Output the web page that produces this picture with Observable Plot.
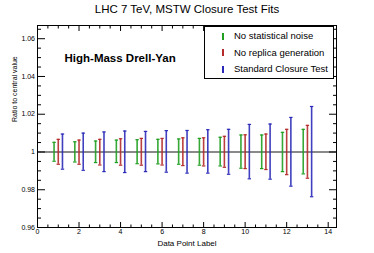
<!DOCTYPE html>
<html>
<head>
<meta charset="utf-8">
<script src="https://cdn.jsdelivr.net/npm/d3@7"></script>
<script src="https://cdn.jsdelivr.net/npm/@observablehq/plot@0.6"></script>
<style>
  html, body { margin: 0; padding: 0; background: white; }
  #wrap { position: relative; width: 374px; height: 253px; font-family: "Liberation Sans", Arial, Helvetica, sans-serif; color: black; }
  #title { position: absolute; left: 0; top: 2px; width: 374px; text-align: center; font-size: 11.5px; line-height: 14px; }
  #legend { position: absolute; left: 204px; top: 26px; width: 128px; height: 51px; border: 1px solid black; background: white; }
  .lrow { position: absolute; left: 0; height: 12px; font-size: 9.5px; line-height: 12px; }
  .lmark { position: absolute; left: 17px; top: 2.5px; width: 1.6px; height: 7px; }
  .ltext { position: absolute; left: 29px; top: 0; white-space: nowrap; }
</style>
</head>
<body>
<div id="wrap">
  <div id="chart"></div>
  <div id="title"></div>
  <div id="legend"></div>
</div>
<script>
// ---- data ----
const titleText = "LHC 7 TeV, MSTW Closure Test Fits";
const panelLabel = "High-Mass Drell-Yan";
const xTitle = "Data Point Label";
const yTitle = "Ratio to central value";

const pointLabels = [1, 2, 3, 4, 5, 6, 7, 8, 9, 10, 11, 12, 13];

const seriesNames = ["No statistical noise", "No replica generation", "Standard Closure Test"];
const seriesColors = ["#1f9e1f", "#b52a2a", "#2a2ab8"];

const noNoiseLo = [0.9951, 0.9947, 0.9944, 0.9944, 0.9938, 0.9937, 0.9935, 0.9930, 0.9926, 0.9914, 0.9912, 0.9896, 0.9884];
const noNoiseHi = [1.0051, 1.0054, 1.0058, 1.0063, 1.0065, 1.0067, 1.0069, 1.0072, 1.0078, 1.0090, 1.0090, 1.0104, 1.0120];

const noReplicaLo = [0.9935, 0.9935, 0.9931, 0.9930, 0.9930, 0.9931, 0.9928, 0.9926, 0.9919, 0.9912, 0.9907, 0.9880, 0.9861];
const noReplicaHi = [1.0067, 1.0063, 1.0067, 1.0070, 1.0072, 1.0072, 1.0075, 1.0075, 1.0083, 1.0091, 1.0095, 1.0120, 1.0141];

const standardLo = [0.9909, 0.9903, 0.9896, 0.9891, 0.9896, 0.9893, 0.9888, 0.9888, 0.9882, 0.9858, 0.9856, 0.9819, 0.9763];
const standardHi = [1.0095, 1.0100, 1.0106, 1.0111, 1.0109, 1.0113, 1.0114, 1.0118, 1.0120, 1.0146, 1.0148, 1.0183, 1.0241];

const referenceLine = [1];

const xMajorTicks = [0, 2, 4, 6, 8, 10, 12, 14];
const xMinorTicks = [0.5, 1, 1.5, 2.5, 3, 3.5, 4.5, 5, 5.5, 6.5, 7, 7.5, 8.5, 9, 9.5, 10.5, 11, 11.5, 12.5, 13, 13.5];
const yMajorTicks = [0.96, 0.98, 1, 1.02, 1.04, 1.06];
const yMinorTicks = [0.965, 0.97, 0.975, 0.985, 0.99, 0.995, 1.005, 1.01, 1.015, 1.025, 1.03, 1.035, 1.045, 1.05, 1.055, 1.065];

// ---- build ----
const lows = [noNoiseLo, noReplicaLo, standardLo];
const highs = [noNoiseHi, noReplicaHi, standardHi];
const dodge = [-4.2, 0, 4.2];

const capSymbol = {
  draw(context, size) {
    const w = Math.sqrt(size / Math.PI);
    context.moveTo(-w, 0);
    context.lineTo(w, 0);
  }
};

const errorMarks = [];
seriesNames.forEach((name, s) => {
  const rows = pointLabels.map((x, i) => ({x, lo: lows[s][i], hi: highs[s][i]}));
  const common = {x: "x", stroke: seriesColors[s], dx: dodge[s]};
  errorMarks.push(Plot.ruleX(rows, {...common, y1: "lo", y2: "hi", strokeWidth: 1.6, strokeOpacity: 0.9}));
  errorMarks.push(Plot.dot(rows, {...common, y: "lo", symbol: capSymbol, r: 1.7, fill: "none", strokeWidth: 1.2}));
  errorMarks.push(Plot.dot(rows, {...common, y: "hi", symbol: capSymbol, r: 1.7, fill: "none", strokeWidth: 1.2}));
});

const fmt = d => String(+d.toFixed(3));
const blank = () => "";

const chart = Plot.plot({
  width: 374,
  height: 253,
  marginLeft: 37,
  marginRight: 38,
  marginTop: 25,
  marginBottom: 26,
  style: {background: "white", fontFamily: "'Liberation Sans', Arial, Helvetica, sans-serif", color: "black"},
  x: {domain: [0, 14.4]},
  y: {domain: [0.96, 1.067]},
  marks: [
    Plot.ruleY(referenceLine, {stroke: "#8a8a8a", strokeWidth: 2}),
    ...errorMarks,
    Plot.frame({stroke: "black", strokeWidth: 1}),
    Plot.axisY(yMajorTicks, {anchor: "left", tickSize: -8, tickPadding: 10.5, tickFormat: fmt, label: null, fontSize: 7}),
    Plot.axisY(yMinorTicks, {anchor: "left", tickSize: -4, tickFormat: blank, label: null}),
    Plot.axisY(yMajorTicks, {anchor: "right", tickSize: -8, tickFormat: blank, label: null}),
    Plot.axisY(yMinorTicks, {anchor: "right", tickSize: -4, tickFormat: blank, label: null}),
    Plot.axisX(xMajorTicks, {anchor: "bottom", tickSize: -5, tickPadding: 7, tickFormat: fmt, label: null, fontSize: 7}),
    Plot.axisX(xMinorTicks, {anchor: "bottom", tickSize: -2.5, tickFormat: blank, label: null}),
    Plot.axisX(xMajorTicks, {anchor: "top", tickSize: -5, tickFormat: blank, label: null}),
    Plot.axisX(xMinorTicks, {anchor: "top", tickSize: -2.5, tickFormat: blank, label: null}),
    Plot.text([xTitle], {frameAnchor: "bottom", dy: 18, lineAnchor: "bottom", fontSize: 8}),
    Plot.text([yTitle], {frameAnchor: "left", rotate: -90, dx: -23, dy: -4.5, fontSize: 7}),
    Plot.text([panelLabel], {frameAnchor: "top-left", textAnchor: "start", dx: 27, dy: 36, lineAnchor: "bottom", fontSize: 11.5, fontWeight: "bold"})
  ]
});
document.getElementById("chart").appendChild(chart);

document.getElementById("title").textContent = titleText;

const legend = document.getElementById("legend");
const rowTops = [3, 19.7, 36.3];
seriesNames.forEach((name, s) => {
  const row = document.createElement("div");
  row.className = "lrow";
  row.style.top = rowTops[s] + "px";
  const mark = document.createElement("div");
  mark.className = "lmark";
  mark.style.background = seriesColors[s];
  const txt = document.createElement("div");
  txt.className = "ltext";
  txt.textContent = name;
  row.appendChild(mark);
  row.appendChild(txt);
  legend.appendChild(row);
});
</script>
</body>
</html>
